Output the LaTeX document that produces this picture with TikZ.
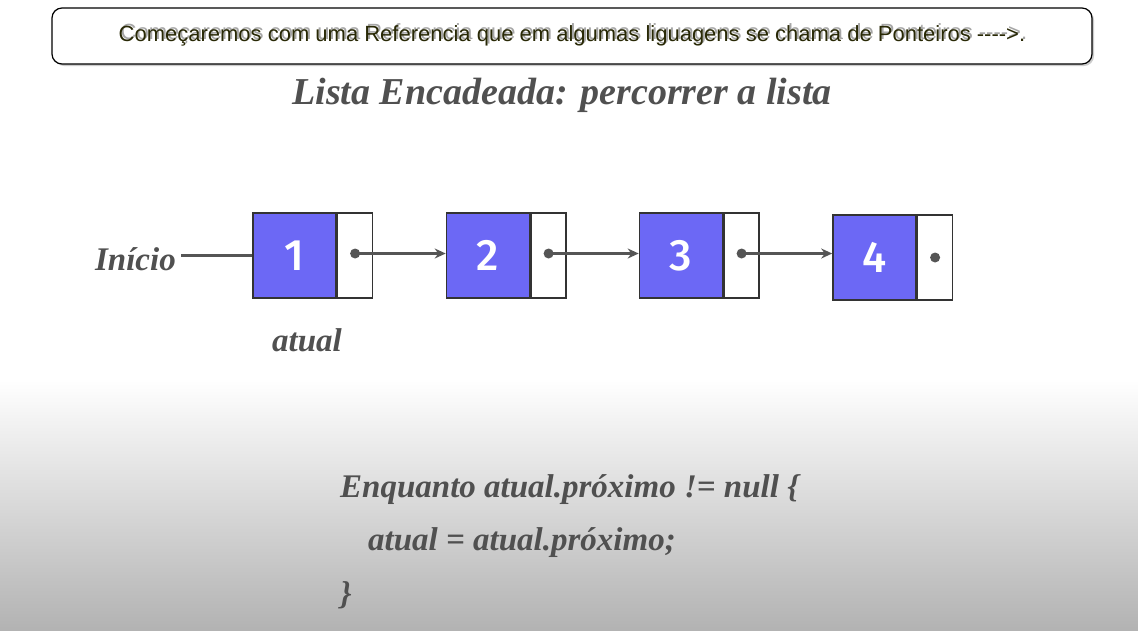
\documentclass[tikz,border=0pt]{standalone}
\usepackage{fontspec}
\setmainfont{Liberation Serif}
\newfontfamily\arialf{Liberation Sans}
\newfontfamily\numf{Fira Sans}[UprightFont=* Medium]
\usetikzlibrary{arrows.meta,shadows}
\definecolor{nodeblue}{RGB}{108,104,245}
\definecolor{txtgray}{RGB}{80,80,80}
\definecolor{linegray}{RGB}{85,85,85}
\definecolor{olivetxt}{RGB}{40,40,5}
\tikzset{
  bluepart/.style={draw=black!80,line width=1.6pt,fill=nodeblue,inner sep=0pt,minimum width=83pt,minimum height=85pt,font=\numf\fontsize{44}{48}\selectfont,text=white},
  whitepart/.style={draw=black!80,line width=1.6pt,fill=white,inner sep=0pt,minimum width=35pt,minimum height=85pt},
  dotc/.style={circle,fill=linegray,inner sep=0pt,minimum size=10pt},
  link/.style={draw=linegray,line width=2.2pt,-{Stealth[length=11pt,width=10pt]}},
  ital/.style={font=\bfseries\itshape\fontsize{33}{36}\selectfont,text=txtgray,inner sep=0pt},
  bannertxt/.style={font=\arialf\fontsize{22}{26}\selectfont,inner sep=0pt},
}
\begin{document}
\begin{tikzpicture}[x=1pt,y=-1pt]
\useasboundingbox (0,0) rectangle (1138,630);
\fill[white] (0,0) rectangle (1138,630);
\shade[top color=white,bottom color=black!30] (0,380) rectangle (1138,630);
% top banner
\node[draw=black,line width=1.2pt,rounded corners=10pt,fill=white,minimum width=1040pt,minimum height=56pt,drop shadow={shadow xshift=2pt,shadow yshift=-2pt,opacity=0.4},inner sep=0pt] (banner) at (572,36) {};
\node[bannertxt,text=black!35] (bshadow) at ([xshift=2pt,yshift=2pt]banner.center) {Começaremos com uma Referencia que em algumas liguagens se chama de Ponteiros ---->.};
\node[bannertxt,text=olivetxt] (btext) at (banner.center) {Começaremos com uma Referencia que em algumas liguagens se chama de Ponteiros ---->.};
% title
\node[ital,font=\bfseries\itshape\fontsize{38}{42}\selectfont] (title) at (562,95) {Lista Encadeada: percorrer a lista};
% nodes
\node[bluepart] (b1) at (294.5,255.5) {1};
\node[whitepart,anchor=west] (w1) at (b1.east) {};
\node[bluepart] (b2) at (488,255.5) {2};
\node[whitepart,anchor=west] (w2) at (b2.east) {};
\node[bluepart] (b3) at (681,255.5) {3};
\node[whitepart,anchor=west] (w3) at (b3.east) {};
\node[bluepart] (b4) at (874.5,257.5) {4};
\node[whitepart,anchor=west] (w4) at (b4.east) {};
\node[dotc] (d1) at ([yshift=2pt]w1.center) {};
\node[dotc] (d2) at ([yshift=2pt]w2.center) {};
\node[dotc] (d3) at ([yshift=2pt]w3.center) {};
\node[dotc] (d4) at (w4.center) {};
\draw[link] (d1.center) -- (d1.center -| b2.west);
\draw[link] (d2.center) -- (d2.center -| b3.west);
\draw[link] (d3.center) -- (d3.center -| b4.west);
% inicio
\node[ital,anchor=east] (ini) at (176,259) {Início};
\coordinate (inis) at ([xshift=5pt]ini.east |- b1.west);
\draw[draw=linegray,line width=2.2pt] (inis) -- (b1.west);
\node[ital] (atual) at (307,340) {atual};
% code
\node[ital,anchor=west] (c1) at (340,490) {Enquanto atual.próximo != null \{};
\node[ital,anchor=west] (c2) at (368,543) {atual = atual.próximo;};
\node[ital,anchor=west] (c3) at (340,595) {\}};
\end{tikzpicture}
\end{document}
